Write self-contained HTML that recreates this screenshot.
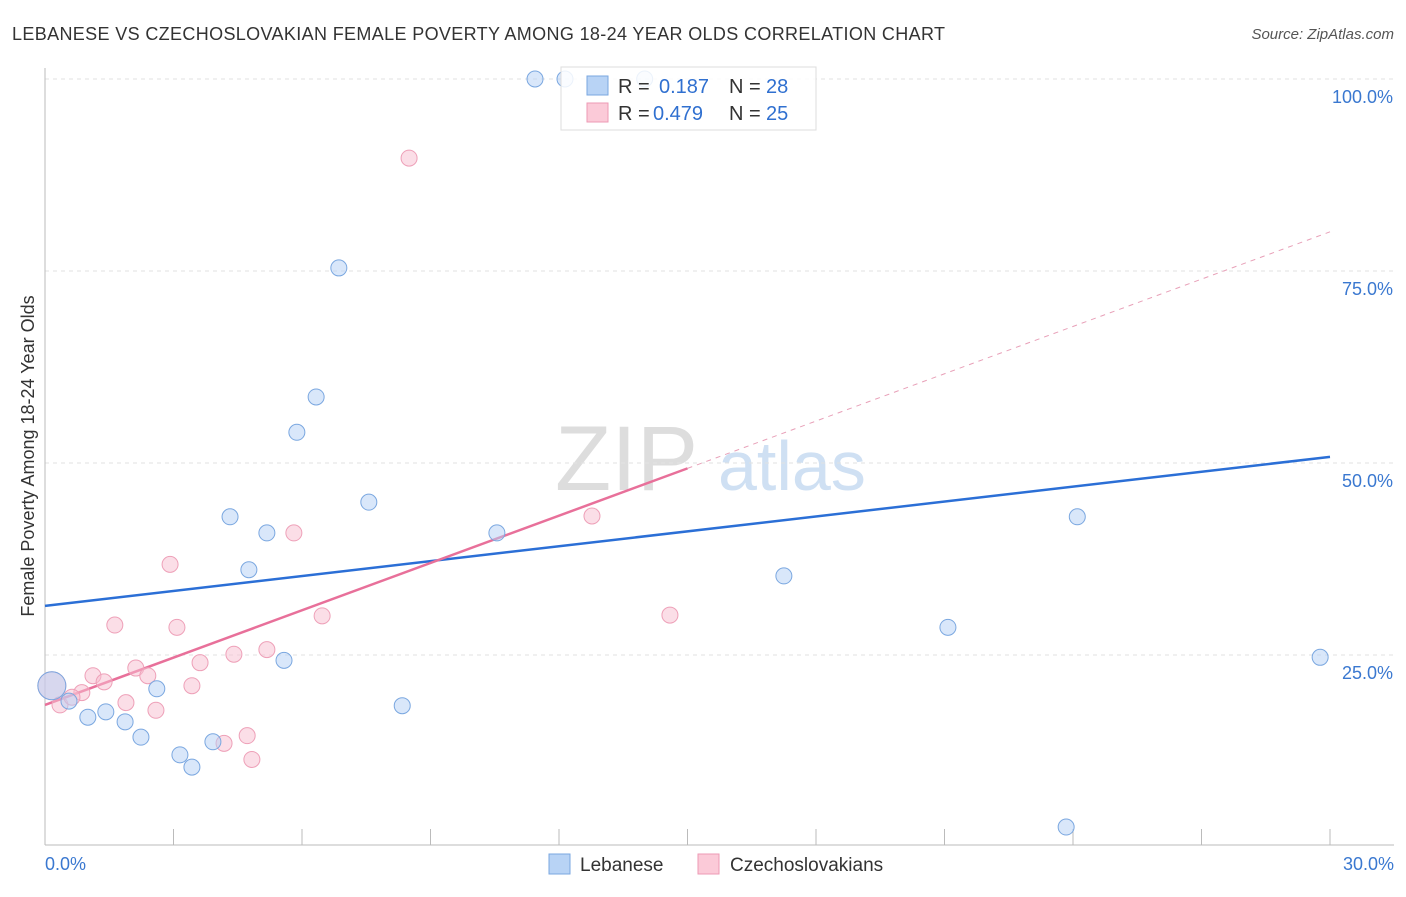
<!DOCTYPE html>
<html><head><meta charset="utf-8"><style>
body{margin:0;background:#fff;font-family:"Liberation Sans",sans-serif;}
svg text{font-family:"Liberation Sans",sans-serif;}
</style></head><body>
<svg width="1406" height="892" xmlns="http://www.w3.org/2000/svg">
<text x="12" y="40" font-size="18" fill="#333" textLength="933" lengthAdjust="spacing">LEBANESE VS CZECHOSLOVAKIAN FEMALE POVERTY AMONG 18-24 YEAR OLDS CORRELATION CHART</text>
<text x="1394" y="39" font-size="15" fill="#555" text-anchor="end" font-style="italic">Source: ZipAtlas.com</text>
<g>
<text x="555" y="490" font-size="92" fill="#ddd" font-family="Liberation Serif,serif">ZIP</text>
<text x="718" y="490" font-size="70" fill="#cfe0f3">atlas</text>
</g>
<g id="grid"></g>
<g id="axes"></g>
<g id="lines"></g>
<g id="pts"></g>
<text transform="translate(34,456) rotate(-90)" font-size="18" fill="#333" text-anchor="middle">Female Poverty Among 18-24 Year Olds</text>
<g>
<rect x="561" y="67" width="255" height="63" fill="rgba(255,255,255,0.85)" stroke="#ddd"/>
<rect x="587" y="76" width="21" height="19" fill="#b8d3f5" stroke="#7aa7e0"/>
<rect x="587" y="103" width="21" height="19" fill="#fbcad8" stroke="#ee9ab4"/>
<text x="618" y="93" font-size="20" fill="#333">R = </text><text x="659" y="93" font-size="20" fill="#3070d0">0.187</text>
<text x="729" y="93" font-size="20" fill="#333">N = </text><text x="766" y="93" font-size="20" fill="#3070d0">28</text>
<text x="618" y="120" font-size="20" fill="#333">R = </text><text x="653" y="120" font-size="20" fill="#3070d0">0.479</text>
<text x="729" y="120" font-size="20" fill="#333">N = </text><text x="766" y="120" font-size="20" fill="#3070d0">25</text>
</g>
<g>
<rect x="549" y="854" width="21" height="20" fill="#b8d3f5" stroke="#7aa7e0"/>
<text x="580" y="871" font-size="19" fill="#333">Lebanese</text>
<rect x="698" y="854" width="21" height="20" fill="#fbcad8" stroke="#ee9ab4"/>
<text x="730" y="871" font-size="19" fill="#333">Czechoslovakians</text>
</g>
</svg>
<script>
const yTicks=[25,50,75,100];
const yTickLabels=["25.0%","50.0%","75.0%","100.0%"];
const xTickLabels=["0.0%","30.0%"];
const lebX=[11.44,12.14,14.0,6.86,6.33,5.88,7.56,4.32,5.18,10.55,4.76,17.25,24.1,21.08,29.77,5.58,2.61,0.56,0.16,1.0,1.42,1.87,2.24,3.92,3.15,3.43,8.34,23.84];
const lebY=[100,100,100,75.4,58.6,54.0,44.9,43.0,40.9,40.9,36.1,35.3,43.0,28.6,24.7,24.3,20.6,19.0,21.0,16.9,17.6,16.3,14.3,13.7,12.0,10.4,18.4,2.6];
const czX=[8.5,5.81,12.77,2.92,6.47,14.59,1.63,3.08,5.18,4.41,3.62,2.12,2.4,1.12,1.38,3.43,0.86,0.16,0.35,1.89,2.59,4.18,4.72,4.83,0.63];
const czY=[89.7,40.9,43.1,36.8,30.1,30.2,28.9,28.6,25.7,25.1,24.0,23.3,22.3,22.3,21.5,21.0,20.1,21.0,18.5,18.8,17.8,13.5,14.5,11.4,19.5];
const lebTrend=[31.4,50.8];
const czTrend=[18.5,80.1];
const NS="http://www.w3.org/2000/svg";
const X=v=>45+v*(1285/30), Y=v=>847-v*7.68;
function mk(t,a,p){const e=document.createElementNS(NS,t);for(const k in a)e.setAttribute(k,a[k]);document.getElementById(p).appendChild(e);return e;}
yTicks.forEach((t,i)=>{
 const g=mk('line',{x1:45,x2:1394,y1:Y(t),y2:Y(t),stroke:'#e2e2e2','stroke-dasharray':'4,4'},'grid');
 
 
 const l=mk('text',{x:1393,y:Y(t)+24,'font-size':18,fill:'#3a78d0','text-anchor':'end'},'axes');l.textContent=yTickLabels[i];
 
 
});
mk('line',{x1:45,x2:45,y1:68,y2:845,stroke:'#bbb'},'axes');
mk('line',{x1:45,x2:1394,y1:845,y2:845,stroke:'#bbb'},'axes');
for(let i=0;i<=10;i++){const t=mk('line',{x1:X(i*3),x2:X(i*3),y1:829,y2:845,stroke:'#bbb'},'axes');
 
 }
[0,30].forEach((v,i)=>{const l=mk('text',{x:i?1394:45,y:870,'font-size':18,fill:'#3a78d0','text-anchor':i?'end':'start'},'axes');l.textContent=xTickLabels[i];
 
 });
const bl=mk('line',{x1:X(0),y1:Y(lebTrend[0]),x2:X(30),y2:Y(lebTrend[1]),stroke:'#2b6fd6','stroke-width':2.5},'lines');


const cz=v=>czTrend[0]+(czTrend[1]-czTrend[0])*v/30;
const pl=mk('line',{x1:X(0),y1:Y(cz(0)),x2:X(15),y2:Y(cz(15)),stroke:'#e8709a','stroke-width':2.5},'lines');


const pd=mk('line',{x1:X(15),y1:Y(cz(15)),x2:X(30),y2:Y(cz(30)),stroke:'#e8a0b8','stroke-width':1,'stroke-dasharray':'5,5'},'lines');


czX.forEach((x,i)=>{const c=mk('circle',{cx:X(x),cy:Y(czY[i]),r:(i==17?14:8),fill:'rgba(248,190,208,0.5)',stroke:'#eea0b8','stroke-width':1},'pts');
 
 });
lebX.forEach((x,i)=>{const c=mk('circle',{cx:X(x),cy:Y(lebY[i]),r:(i==18?14:8),fill:'rgba(180,208,245,0.5)',stroke:'#7aa7e0','stroke-width':1},'pts');
 
 });
</script>
</body></html>
